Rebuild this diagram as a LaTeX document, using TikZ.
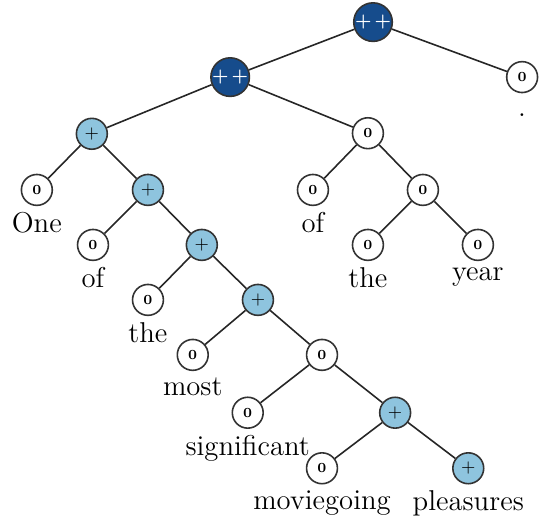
\documentclass[tikz,border=0pt]{standalone}
\usepackage{tikz}
\usetikzlibrary{positioning}
\usepackage[svgnames]{xcolor}
\definecolor{darkpos}{RGB}{22,76,140}
\definecolor{lightpos}{RGB}{142,196,222}

\begin{document}
\begin{tikzpicture}[
    sent/.style={circle, draw=black!80, line width=0.8pt, minimum size=15.5pt, inner sep=0pt},
    neunode/.style={sent, fill=white, font=\scriptsize\bfseries},
    posnode/.style={sent, fill=lightpos, font=\small},
    vposnode/.style={sent, fill=darkpos, text=white, minimum size=16.5pt, font=\small\bfseries},
    word/.style={font=\Large, inner sep=1pt},
    edge/.style={draw=black!85, line width=0.8pt}
  ]
    \useasboundingbox (0,0) rectangle (9.543,-9.155);
    % inner nodes
    \node[vposnode] (root) at (6.58,-0.39) {+\,+};
    \node[vposnode] (pp) at (4.06,-1.36) {+\,+};
    \node[posnode] (pa) at (1.62,-2.36) {+};
    \node[neunode] (na) at (6.49,-2.35) {0};
    \node[posnode] (pb) at (2.61,-3.35) {+};
    \node[neunode] (nb) at (7.46,-3.35) {0};
    \node[posnode] (pc) at (3.56,-4.32) {+};
    \node[posnode] (pd) at (4.55,-5.29) {+};
    \node[neunode] (nc) at (5.68,-6.26) {0};
    \node[posnode] (pe) at (6.97,-7.28) {+};
    % leaves
    \node[neunode] (l1) at (0.65,-3.35) {0};
    \node[neunode] (l2) at (1.64,-4.32) {0};
    \node[neunode] (l3) at (2.61,-5.29) {0};
    \node[neunode] (l4) at (3.40,-6.26) {0};
    \node[neunode] (l5) at (4.37,-7.28) {0};
    \node[neunode] (l6) at (5.68,-8.26) {0};
    \node[posnode] (l7) at (8.26,-8.26) {+};
    \node[neunode] (l8) at (5.52,-3.35) {0};
    \node[neunode] (l9) at (6.49,-4.32) {0};
    \node[neunode] (l10) at (8.43,-4.32) {0};
    \node[neunode] (l11) at (9.21,-1.36) {0};
    % words
    \node[word, below=2pt of l1] (w1) {One};
    \node[word, below=2pt of l2] (w2) {of};
    \node[word, below=2pt of l3] (w3) {the};
    \node[word, below=2pt of l4] (w4) {most};
    \node[word, below=2pt of l5] (w5) {significant};
    \node[word, below=2pt of l6] (w6) {moviegoing};
    \node[word, below=2pt of l7] (w7) {pleasures};
    \node[word, below=2pt of l8] (w8) {of};
    \node[word, below=2pt of l9] (w9) {the};
    \node[word, below=2pt of l10] (w10) {year};
    \node[word, below=9pt of l11] (w11) {.};
    % edges
    \draw[edge] (root) -- (pp);
    \draw[edge] (root) -- (l11);
    \draw[edge] (pp) -- (pa);
    \draw[edge] (pp) -- (na);
    \draw[edge] (pa) -- (l1);
    \draw[edge] (pa) -- (pb);
    \draw[edge] (pb) -- (l2);
    \draw[edge] (pb) -- (pc);
    \draw[edge] (pc) -- (l3);
    \draw[edge] (pc) -- (pd);
    \draw[edge] (pd) -- (l4);
    \draw[edge] (pd) -- (nc);
    \draw[edge] (nc) -- (l5);
    \draw[edge] (nc) -- (pe);
    \draw[edge] (pe) -- (l6);
    \draw[edge] (pe) -- (l7);
    \draw[edge] (na) -- (l8);
    \draw[edge] (na) -- (nb);
    \draw[edge] (nb) -- (l9);
    \draw[edge] (nb) -- (l10);
\end{tikzpicture}
\end{document}
